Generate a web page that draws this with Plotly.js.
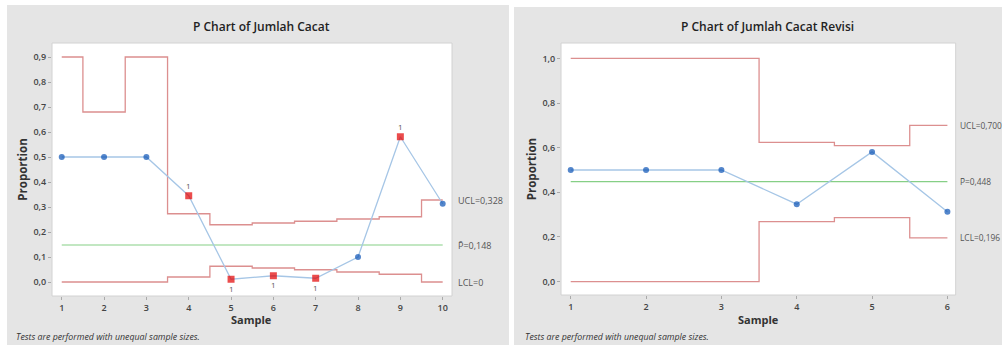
<!DOCTYPE html>
<html>
<head>
<meta charset="utf-8">
<script src="https://cdn.plot.ly/plotly-3.0.1.min.js"></script>
<style>html,body{margin:0;padding:0;background:#fff;}#chart{width:1002px;height:345px;}</style>
</head>
<body>
<div id="chart"></div>
<script>
// ---- Data: left chart ----
const samplesA = [1, 2, 3, 4, 5, 6, 7, 8, 9, 10];
const propA    = [0.5, 0.5, 0.5, 0.345, 0.011, 0.025, 0.015, 0.1, 0.581, 0.313];
const uclA     = [0.9, 0.68, 0.9, 0.273, 0.229, 0.236, 0.243, 0.252, 0.261, 0.328];
const lclA     = [0, 0, 0, 0.02, 0.063, 0.056, 0.049, 0.04, 0.031, 0];
const centerA  = 0.148;
const titleA   = "P Chart of Jumlah Cacat";

// ---- Data: right chart ----
const samplesB = [1, 2, 3, 4, 5, 6];
const propB    = [0.5, 0.5, 0.5, 0.347, 0.581, 0.313];
const uclB     = [1.0, 1.0, 1.0, 0.624, 0.609, 0.700];
const lclB     = [0, 0, 0, 0.269, 0.287, 0.196];
const centerB  = 0.448;
const titleB   = "P Chart of Jumlah Cacat Revisi";

const footnote = "Tests are performed with unequal sample sizes.";
const xTitle = "Sample";
const yTitle = "Proportion";

const FONT = "Open Sans, Noto Sans, sans-serif";
const RED = "#dc8f8f", GREEN = "#86cf86", BLUE_LINE = "#a6c6e6", BLUE_MK = "#0b53b5", RED_MK = "#e30000";

function fmt(v){ return v === 0 ? "0" : v.toFixed(3).replace(".", ","); }

function build(xs, p, ucl, lcl, c, xa, ya) {
  const t = [];
  t.push({x: xs, y: ucl, mode: "lines", line: {shape: "hvh", color: RED, width: 1.3}, xaxis: xa, yaxis: ya, hoverinfo: "skip"});
  t.push({x: xs, y: lcl, mode: "lines", line: {shape: "hvh", color: RED, width: 1.3}, xaxis: xa, yaxis: ya, hoverinfo: "skip"});
  t.push({x: [xs[0], xs[xs.length-1]], y: [c, c], mode: "lines", line: {color: GREEN, width: 1.1}, xaxis: xa, yaxis: ya, hoverinfo: "skip"});
  const out = p.map((v,i) => v > ucl[i] || v < lcl[i]);
  t.push({x: xs, y: p, mode: "lines+markers", line: {color: BLUE_LINE, width: 1.3},
    marker: {color: out.map(o => o ? RED_MK : BLUE_MK), symbol: out.map(o => o ? "square" : "circle"),
             size: out.map(o => o ? 7 : 6), line: {width: 0}},
    xaxis: xa, yaxis: ya});
  const ann = [];
  p.forEach((v,i) => {
    if (out[i]) {
      const above = v > ucl[i];
      ann.push({x: xs[i], y: v, xref: xa, yref: ya, text: "1", showarrow: false,
        yshift: above ? 10 : -9, font: {family: FONT, size: 8, color: "#555"}});
    }
  });
  const last = xs.length - 1;
  const labels = [["UCL=" + fmt(ucl[last]), ucl[last]], ["P\u0304=" + fmt(c), c], ["LCL=" + fmt(lcl[last]), lcl[last]]];
  return {traces: t, ann: ann, labels: labels};
}

const A = build(samplesA, propA, uclA, lclA, centerA, "x", "y");
const B = build(samplesB, propB, uclB, lclB, centerB, "x2", "y2");

const W = 1002, H = 345;
const px = v => v / W, py = v => 1 - v / H;

const annotations = [].concat(A.ann, B.ann);
A.labels.forEach(l => annotations.push({xref: "paper", yref: "y", x: px(456), y: l[1], xanchor: "left", text: l[0], showarrow: false, font: {family: FONT, size: 9, color: "#555"}}));
B.labels.forEach(l => annotations.push({xref: "paper", yref: "y2", x: px(958), y: l[1], xanchor: "left", text: l[0], showarrow: false, font: {family: FONT, size: 8.4, color: "#555"}}));
annotations.push({xref: "paper", yref: "paper", x: px(261), y: py(26), xanchor: "center", yanchor: "middle", text: titleA, showarrow: false, font: {family: FONT, size: 12, color: "#222", weight: 600}});
annotations.push({xref: "paper", yref: "paper", x: px(767), y: py(26), xanchor: "center", yanchor: "middle", text: titleB, showarrow: false, font: {family: FONT, size: 12, color: "#222", weight: 600}});
annotations.push({xref: "paper", yref: "paper", x: px(14), y: py(337), xanchor: "left", yanchor: "middle", text: "<i>" + footnote + "</i>", showarrow: false, font: {family: FONT, size: 8.8, color: "#333"}});
annotations.push({xref: "paper", yref: "paper", x: px(523), y: py(337), xanchor: "left", yanchor: "middle", text: "<i>" + footnote + "</i>", showarrow: false, font: {family: FONT, size: 8.8, color: "#333"}});
// x-axis titles
annotations.push({xref: "paper", yref: "paper", x: px(252), y: py(319.5), xanchor: "center", yanchor: "middle", text: xTitle, showarrow: false, font: {family: FONT, size: 11, color: "#333", weight: 700}});
annotations.push({xref: "paper", yref: "paper", x: px(758), y: py(319.5), xanchor: "center", yanchor: "middle", text: xTitle, showarrow: false, font: {family: FONT, size: 11, color: "#333", weight: 700}});

const axisCommon = {showgrid: false, zeroline: false, ticks: "outside", ticklen: 3, tickcolor: "#aaa",
  tickfont: {family: FONT, size: 9, color: "#444", weight: 600}, showline: false, fixedrange: true};
const yTitleObj = {text: yTitle, font: {family: FONT, size: 11.5, color: "#333", weight: 700}, standoff: 3};

const layout = {
  width: W, height: H, margin: {l: 0, r: 0, t: 0, b: 0},
  paper_bgcolor: "#ffffff", plot_bgcolor: "rgba(0,0,0,0)",
  showlegend: false, separators: ", ",
  xaxis: Object.assign({}, axisCommon, {domain: [px(52), px(452)], range: [0.77, 10.22], tickvals: samplesA, anchor: "y"}),
  yaxis: Object.assign({}, axisCommon, {domain: [py(296), py(43)], range: [-0.056, 0.956], dtick: 0.1, tick0: 0, tickformat: ".1f", title: yTitleObj, anchor: "x"}),
  xaxis2: Object.assign({}, axisCommon, {domain: [px(561), px(955.7)], range: [0.871, 6.11], tickvals: samplesB, anchor: "y2"}),
  yaxis2: Object.assign({}, axisCommon, {domain: [py(295), py(43)], range: [-0.06, 1.069], dtick: 0.2, tick0: 0, tickformat: ".1f", title: yTitleObj, anchor: "x2"}),
  shapes: [
    {type: "rect", xref: "paper", yref: "paper", x0: px(7), x1: px(509), y0: 0, y1: py(5), fillcolor: "#e5e5e5", line: {width: 0}, layer: "below"},
    {type: "rect", xref: "paper", yref: "paper", x0: px(514), x1: 1, y0: 0, y1: py(7), fillcolor: "#e5e5e5", line: {width: 0}, layer: "below"},
    {type: "rect", xref: "x domain", yref: "y domain", x0: 0, x1: 1, y0: 0, y1: 1, fillcolor: "#ffffff", line: {width: 1, color: "#d2d2d2"}, layer: "below"},
    {type: "rect", xref: "x2 domain", yref: "y2 domain", x0: 0, x1: 1, y0: 0, y1: 1, fillcolor: "#ffffff", line: {width: 1, color: "#d2d2d2"}, layer: "below"}
  ],
  annotations: annotations
};

Plotly.newPlot("chart", A.traces.concat(B.traces), layout, {displayModeBar: false, staticPlot: true});
</script>
</body>
</html>
